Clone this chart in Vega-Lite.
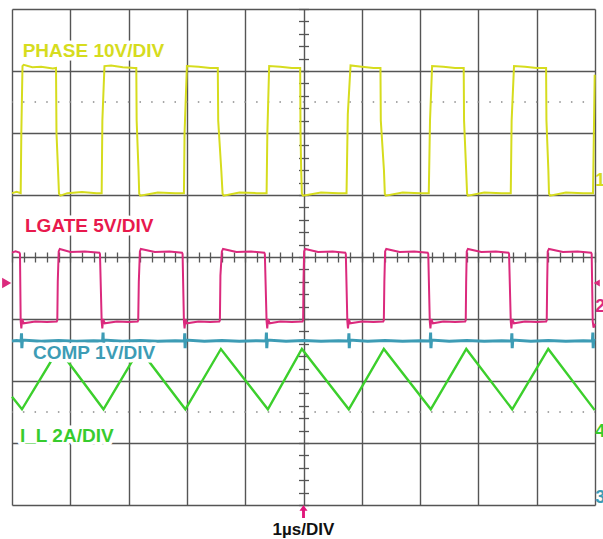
{
  "$schema": "https://vega.github.io/schema/vega-lite/v6.json",
  "width": 583,
  "height": 496,
  "autosize": {"type": "none"},
  "padding": {"left": 12, "top": 9, "right": 8, "bottom": 34},
  "background": "white",
  "config": {"view": {"stroke": null}},
  "datasets": {
    "dots": [{"v": 1.5}, {"v": 6.5}],
    "phase": [
      {"t": 0, "v": 5.03}, {"t": 0.08, "v": 5.05}, {"t": 0.149, "v": 5.03}, {"t": 0.16, "v": 6.0}, {"t": 0.18, "v": 7.08}, {"t": 0.2, "v": 7.1}, {"t": 0.35, "v": 7.06}, {"t": 0.5, "v": 7.07}, {"t": 0.7, "v": 7.04}, {"t": 0.755, "v": 7.05},
      {"t": 0.763, "v": 6.0}, {"t": 0.79, "v": 5.4}, {"t": 0.806, "v": 5.02}, {"t": 0.83, "v": 4.99}, {"t": 0.95, "v": 5.03}, {"t": 1.2, "v": 5.05}, {"t": 1.45, "v": 5.03},
      {"t": 1.538, "v": 5.03}, {"t": 1.55, "v": 6.2}, {"t": 1.586, "v": 7.08}, {"t": 1.7, "v": 7.09}, {"t": 1.9, "v": 7.06}, {"t": 2.1, "v": 7.05}, {"t": 2.132, "v": 7.05},
      {"t": 2.138, "v": 6.2}, {"t": 2.17, "v": 5.4}, {"t": 2.182, "v": 5.02}, {"t": 2.2, "v": 4.99}, {"t": 2.5, "v": 5.04}, {"t": 2.8, "v": 5.03},
      {"t": 2.949, "v": 5.03}, {"t": 2.96, "v": 6.0}, {"t": 3.0, "v": 7.08}, {"t": 3.2, "v": 7.07}, {"t": 3.4, "v": 7.05}, {"t": 3.53, "v": 7.05},
      {"t": 3.537, "v": 6.2}, {"t": 3.59, "v": 5.4}, {"t": 3.612, "v": 5.02}, {"t": 3.63, "v": 4.99}, {"t": 3.9, "v": 5.04}, {"t": 4.2, "v": 5.03},
      {"t": 4.367, "v": 5.03}, {"t": 4.38, "v": 6.0}, {"t": 4.411, "v": 7.08}, {"t": 4.6, "v": 7.07}, {"t": 4.8, "v": 7.05}, {"t": 4.943, "v": 7.05},
      {"t": 4.949, "v": 6.0}, {"t": 4.96, "v": 5.4}, {"t": 4.972, "v": 5.02}, {"t": 4.99, "v": 4.99}, {"t": 5.3, "v": 5.04}, {"t": 5.6, "v": 5.03},
      {"t": 5.738, "v": 5.03}, {"t": 5.76, "v": 6.3}, {"t": 5.807, "v": 7.09}, {"t": 6.0, "v": 7.07}, {"t": 6.2, "v": 7.05}, {"t": 6.32, "v": 7.05},
      {"t": 6.326, "v": 6.2}, {"t": 6.38, "v": 5.4}, {"t": 6.395, "v": 5.02}, {"t": 6.41, "v": 4.99}, {"t": 6.7, "v": 5.04}, {"t": 7.0, "v": 5.03},
      {"t": 7.149, "v": 5.03}, {"t": 7.17, "v": 6.2}, {"t": 7.206, "v": 7.08}, {"t": 7.4, "v": 7.07}, {"t": 7.6, "v": 7.05}, {"t": 7.748, "v": 7.05},
      {"t": 7.754, "v": 6.2}, {"t": 7.79, "v": 5.4}, {"t": 7.806, "v": 5.02}, {"t": 7.82, "v": 4.99}, {"t": 8.1, "v": 5.04}, {"t": 8.4, "v": 5.03},
      {"t": 8.555, "v": 5.03}, {"t": 8.57, "v": 6.2}, {"t": 8.611, "v": 7.08}, {"t": 8.8, "v": 7.07}, {"t": 9.0, "v": 7.05}, {"t": 9.161, "v": 7.05},
      {"t": 9.167, "v": 6.2}, {"t": 9.2, "v": 5.4}, {"t": 9.211, "v": 5.02}, {"t": 9.23, "v": 4.99}, {"t": 9.5, "v": 5.04}, {"t": 9.8, "v": 5.03},
      {"t": 9.966, "v": 5.03}, {"t": 9.995, "v": 6.94}
    ],
    "lgate": [
      {"t": 0, "v": 4.07}, {"t": 0.06, "v": 4.09}, {"t": 0.127, "v": 4.07},
      {"t": 0.137, "v": 4.05}, {"t": 0.149, "v": 2.96}, {"t": 0.16, "v": 2.85}, {"t": 0.175, "v": 3.0}, {"t": 0.2, "v": 2.93}, {"t": 0.4, "v": 2.96}, {"t": 0.6, "v": 2.95}, {"t": 0.767, "v": 2.96},
      {"t": 0.777, "v": 2.98}, {"t": 0.785, "v": 3.6}, {"t": 0.801, "v": 4.09}, {"t": 0.82, "v": 4.13}, {"t": 1.0, "v": 4.08}, {"t": 1.25, "v": 4.09}, {"t": 1.499, "v": 4.07},
      {"t": 1.509, "v": 4.05}, {"t": 1.538, "v": 2.96}, {"t": 1.549, "v": 2.85}, {"t": 1.564, "v": 3.0}, {"t": 1.59, "v": 2.93}, {"t": 1.8, "v": 2.96}, {"t": 2.0, "v": 2.95}, {"t": 2.155, "v": 2.96},
      {"t": 2.165, "v": 2.98}, {"t": 2.175, "v": 3.6}, {"t": 2.194, "v": 4.09}, {"t": 2.21, "v": 4.13}, {"t": 2.45, "v": 4.08}, {"t": 2.7, "v": 4.09}, {"t": 2.916, "v": 4.07},
      {"t": 2.926, "v": 4.05}, {"t": 2.949, "v": 2.96}, {"t": 2.96, "v": 2.85}, {"t": 2.975, "v": 3.0}, {"t": 3.0, "v": 2.93}, {"t": 3.2, "v": 2.96}, {"t": 3.4, "v": 2.95}, {"t": 3.556, "v": 2.96},
      {"t": 3.566, "v": 2.98}, {"t": 3.575, "v": 3.7}, {"t": 3.6, "v": 4.09}, {"t": 3.62, "v": 4.13}, {"t": 3.85, "v": 4.08}, {"t": 4.1, "v": 4.09}, {"t": 4.327, "v": 4.07},
      {"t": 4.337, "v": 4.05}, {"t": 4.367, "v": 2.96}, {"t": 4.378, "v": 2.85}, {"t": 4.393, "v": 3.0}, {"t": 4.42, "v": 2.93}, {"t": 4.6, "v": 2.96}, {"t": 4.8, "v": 2.95}, {"t": 4.984, "v": 2.96},
      {"t": 4.994, "v": 2.98}, {"t": 5.0, "v": 3.6}, {"t": 5.011, "v": 4.09}, {"t": 5.03, "v": 4.13}, {"t": 5.25, "v": 4.08}, {"t": 5.5, "v": 4.09}, {"t": 5.716, "v": 4.07},
      {"t": 5.726, "v": 4.05}, {"t": 5.752, "v": 2.96}, {"t": 5.763, "v": 2.85}, {"t": 5.778, "v": 3.0}, {"t": 5.8, "v": 2.93}, {"t": 6.0, "v": 2.96}, {"t": 6.2, "v": 2.95}, {"t": 6.368, "v": 2.96},
      {"t": 6.378, "v": 2.98}, {"t": 6.387, "v": 3.6}, {"t": 6.4, "v": 4.09}, {"t": 6.42, "v": 4.13}, {"t": 6.65, "v": 4.08}, {"t": 6.9, "v": 4.09}, {"t": 7.13, "v": 4.07},
      {"t": 7.14, "v": 4.05}, {"t": 7.166, "v": 2.96}, {"t": 7.177, "v": 2.85}, {"t": 7.192, "v": 3.0}, {"t": 7.22, "v": 2.93}, {"t": 7.4, "v": 2.96}, {"t": 7.6, "v": 2.95}, {"t": 7.773, "v": 2.96},
      {"t": 7.783, "v": 2.98}, {"t": 7.79, "v": 3.6}, {"t": 7.8, "v": 4.09}, {"t": 7.82, "v": 4.13}, {"t": 8.05, "v": 4.08}, {"t": 8.3, "v": 4.09}, {"t": 8.516, "v": 4.07},
      {"t": 8.526, "v": 4.05}, {"t": 8.555, "v": 2.96}, {"t": 8.566, "v": 2.85}, {"t": 8.581, "v": 3.0}, {"t": 8.61, "v": 2.93}, {"t": 8.8, "v": 2.96}, {"t": 9.0, "v": 2.95}, {"t": 9.162, "v": 2.96},
      {"t": 9.172, "v": 2.98}, {"t": 9.18, "v": 3.6}, {"t": 9.189, "v": 4.09}, {"t": 9.21, "v": 4.13}, {"t": 9.45, "v": 4.08}, {"t": 9.7, "v": 4.09}, {"t": 9.933, "v": 4.07},
      {"t": 9.943, "v": 4.05}, {"t": 9.961, "v": 2.96}, {"t": 9.975, "v": 2.86}, {"t": 10, "v": 2.92}
    ],
    "comp": [
      {"t": 0, "v": 2.645}, {"t": 0.08, "v": 2.655},
      {"t": 0.156, "v": 2.645}, {"t": 0.163, "v": 2.77}, {"t": 0.169, "v": 2.53}, {"t": 0.178, "v": 2.66},
      {"t": 0.5, "v": 2.64}, {"t": 0.8, "v": 2.655}, {"t": 1.1, "v": 2.64}, {"t": 1.4, "v": 2.65},
      {"t": 1.555, "v": 2.645}, {"t": 1.562, "v": 2.78}, {"t": 1.568, "v": 2.53}, {"t": 1.577, "v": 2.66},
      {"t": 1.9, "v": 2.64}, {"t": 2.2, "v": 2.655}, {"t": 2.5, "v": 2.64}, {"t": 2.8, "v": 2.65},
      {"t": 2.956, "v": 2.645}, {"t": 2.963, "v": 2.77}, {"t": 2.969, "v": 2.53}, {"t": 2.978, "v": 2.66},
      {"t": 3.3, "v": 2.64}, {"t": 3.6, "v": 2.655}, {"t": 3.9, "v": 2.64}, {"t": 4.2, "v": 2.65},
      {"t": 4.357, "v": 2.645}, {"t": 4.364, "v": 2.78}, {"t": 4.37, "v": 2.53}, {"t": 4.379, "v": 2.66},
      {"t": 4.7, "v": 2.64}, {"t": 5.0, "v": 2.655}, {"t": 5.3, "v": 2.64}, {"t": 5.6, "v": 2.65},
      {"t": 5.772, "v": 2.645}, {"t": 5.779, "v": 2.77}, {"t": 5.785, "v": 2.53}, {"t": 5.794, "v": 2.66},
      {"t": 6.1, "v": 2.64}, {"t": 6.4, "v": 2.655}, {"t": 6.7, "v": 2.64}, {"t": 7.0, "v": 2.65},
      {"t": 7.173, "v": 2.645}, {"t": 7.18, "v": 2.78}, {"t": 7.186, "v": 2.53}, {"t": 7.195, "v": 2.66},
      {"t": 7.5, "v": 2.64}, {"t": 7.8, "v": 2.655}, {"t": 8.1, "v": 2.64}, {"t": 8.4, "v": 2.65},
      {"t": 8.567, "v": 2.645}, {"t": 8.574, "v": 2.77}, {"t": 8.58, "v": 2.53}, {"t": 8.589, "v": 2.66},
      {"t": 8.9, "v": 2.64}, {"t": 9.2, "v": 2.655}, {"t": 9.5, "v": 2.64}, {"t": 9.8, "v": 2.65},
      {"t": 9.956, "v": 2.645}, {"t": 9.963, "v": 2.78}, {"t": 9.969, "v": 2.53}, {"t": 9.978, "v": 2.66},
      {"t": 10, "v": 2.645}
    ],
    "il": [
      {"t": 0, "v": 1.747}, {"t": 0.171, "v": 1.544}, {"t": 0.797, "v": 2.516}, {"t": 1.569, "v": 1.544}, {"t": 2.186, "v": 2.516},
      {"t": 2.974, "v": 1.544}, {"t": 3.583, "v": 2.516}, {"t": 4.389, "v": 1.544}, {"t": 4.972, "v": 2.516}, {"t": 5.777, "v": 1.544},
      {"t": 6.378, "v": 2.516}, {"t": 7.183, "v": 1.544}, {"t": 7.792, "v": 2.516}, {"t": 8.58, "v": 1.544}, {"t": 9.198, "v": 2.516},
      {"t": 9.995, "v": 1.53}
    ],
    "labels": [
      {"label": "PHASE 10V/DIV", "k": "PHASE", "t": 0.183, "v": 7.226},
      {"label": "LGATE 5V/DIV", "k": "LGATE", "t": 0.223, "v": 4.403},
      {"label": "COMP 1V/DIV", "k": "COMP", "t": 0.36, "v": 2.355},
      {"label": "I_L 2A/DIV", "k": "IL", "t": 0.137, "v": 1.024}
    ],
    "edge": [
      {"label": "1", "k": "PHASE", "t": 10.005, "v": 5.145},
      {"label": "2", "k": "LGATE2", "t": 10.005, "v": 3.113},
      {"label": "4", "k": "IL", "t": 10.005, "v": 1.097},
      {"label": "3", "k": "COMP", "t": 10.005, "v": 0.032}
    ]
  },
  "resolve": {"axis": {"x": "independent", "y": "independent"}},
  "layer": [
    {
      "data": {"name": "dots"},
      "mark": {"type": "rule", "color": "#8a8a8a", "strokeWidth": 1.5, "strokeDash": [1.5, 10.16], "strokeDashOffset": 0.75},
      "encoding": {"y": {"field": "v", "type": "quantitative", "scale": {"domain": [0, 8], "nice": false, "zero": false}, "axis": null}}
    },
    {
      "data": {"name": "phase"},
      "mark": {"type": "line", "color": "#d6dc1e", "strokeWidth": 2, "interpolate": "linear"},
      "encoding": {
        "x": {"field": "t", "type": "quantitative", "scale": {"domain": [0, 10], "nice": false, "zero": false},
          "axis": {"orient": "bottom", "values": [0, 1, 2, 3, 4, 5, 6, 7, 8, 9, 10], "grid": true, "gridColor": "#555555", "gridWidth": 1.4, "gridOpacity": 1, "labels": false, "ticks": false, "domain": false, "title": null}},
        "y": {"field": "v", "type": "quantitative", "scale": {"domain": [0, 8], "nice": false, "zero": false},
          "axis": {"orient": "left", "values": [0, 1, 2, 3, 4, 5, 6, 7, 8], "grid": true, "gridColor": "#555555", "gridWidth": 1.4, "gridOpacity": 1, "labels": false, "ticks": false, "domain": false, "title": null}}
      }
    },
    {
      "data": {"name": "lgate"},
      "mark": {"type": "line", "color": "#db2a7d", "strokeWidth": 2},
      "encoding": {
        "x": {"field": "t", "type": "quantitative", "scale": {"domain": [0, 10], "nice": false, "zero": false},
          "axis": {"orient": "top", "offset": -253, "tickCount": 50, "grid": false, "labels": false, "domain": false, "ticks": true, "tickSize": 10, "tickColor": "#555555", "tickWidth": 1.3, "title": null}},
        "y": {"field": "v", "type": "quantitative", "scale": {"domain": [0, 8], "nice": false, "zero": false},
          "axis": {"orient": "right", "offset": -296.5, "tickCount": 40, "grid": false, "labels": false, "domain": false, "ticks": true, "tickSize": 10, "tickColor": "#555555", "tickWidth": 1.3, "title": null}}
      }
    },
    {
      "data": {"name": "il"},
      "mark": {"type": "line", "color": "#3ccf2c", "strokeWidth": 2.4},
      "encoding": {
        "x": {"field": "t", "type": "quantitative", "axis": null},
        "y": {"field": "v", "type": "quantitative", "axis": null}
      }
    },
    {
      "data": {"name": "comp"},
      "mark": {"type": "line", "color": "#3d9cb5", "strokeWidth": 3},
      "encoding": {
        "x": {"field": "t", "type": "quantitative", "axis": null},
        "y": {"field": "v", "type": "quantitative", "axis": null}
      }
    },
    {
      "data": {"name": "labels"},
      "mark": {"type": "text", "align": "left", "baseline": "alphabetic", "font": "Liberation Sans", "fontWeight": "bold", "fontSize": 19, "fill": "white", "stroke": "white", "strokeWidth": 7, "strokeJoin": "round"},
      "encoding": {
        "x": {"field": "t", "type": "quantitative", "axis": null},
        "y": {"field": "v", "type": "quantitative", "axis": null},
        "text": {"field": "label"}
      }
    },
    {
      "data": {"name": "labels"},
      "mark": {"type": "text", "align": "left", "baseline": "alphabetic", "font": "Liberation Sans", "fontWeight": "bold", "fontSize": 19},
      "encoding": {
        "x": {"field": "t", "type": "quantitative", "axis": null},
        "y": {"field": "v", "type": "quantitative", "axis": null},
        "text": {"field": "label"},
        "color": {"field": "k", "type": "nominal", "legend": null,
          "scale": {"domain": ["PHASE", "LGATE", "COMP", "IL", "LGATE2"], "range": ["#d6dc1e", "#e8194d", "#3d9cb5", "#38cc2e", "#db2a7d"]}}
      }
    },
    {
      "data": {"name": "edge"},
      "mark": {"type": "text", "align": "left", "baseline": "alphabetic", "font": "Liberation Sans", "fontWeight": "bold", "fontSize": 18},
      "encoding": {
        "x": {"field": "t", "type": "quantitative", "axis": null},
        "y": {"field": "v", "type": "quantitative", "axis": null},
        "text": {"field": "label"},
        "color": {"field": "k", "type": "nominal", "legend": null,
          "scale": {"domain": ["PHASE", "LGATE", "COMP", "IL", "LGATE2"], "range": ["#d6dc1e", "#e8194d", "#3d9cb5", "#38cc2e", "#db2a7d"]}}
      }
    },
    {
      "data": {"values": [{"label": "1µs/DIV", "t": 5, "v": -0.484}]},
      "mark": {"type": "text", "align": "center", "baseline": "alphabetic", "font": "Liberation Sans", "fontWeight": "bold", "fontSize": 17, "color": "#111111"},
      "encoding": {
        "x": {"field": "t", "type": "quantitative", "axis": null},
        "y": {"field": "v", "type": "quantitative", "axis": null},
        "text": {"field": "label"}
      }
    },
    {
      "data": {"values": [{"name": "LGATE ground", "t": -0.091, "v": 3.58}]},
      "mark": {"type": "point", "shape": "triangle-right", "filled": true, "size": 110, "color": "#db2a7d", "opacity": 1},
      "encoding": {
        "x": {"field": "t", "type": "quantitative", "axis": null},
        "y": {"field": "v", "type": "quantitative", "axis": null}
      }
    },
    {
      "data": {"values": [{"name": "LGATE ref", "t": 10.03, "v": 3.58}]},
      "mark": {"type": "point", "shape": "triangle-left", "filled": true, "size": 50, "color": "#db2a7d", "opacity": 1},
      "encoding": {
        "x": {"field": "t", "type": "quantitative", "axis": null},
        "y": {"field": "v", "type": "quantitative", "axis": null}
      }
    },
    {
      "data": {"values": [{"name": "trigger", "t": 5, "v": -0.105}]},
      "mark": {"type": "point", "shape": "M-0.22,1L0.22,1L0.22,-0.1L0.62,-0.1L0,-1L-0.62,-0.1L-0.22,-0.1Z", "filled": true, "size": 170, "color": "#e0157a", "opacity": 1},
      "encoding": {
        "x": {"field": "t", "type": "quantitative", "axis": null},
        "y": {"field": "v", "type": "quantitative", "axis": null}
      }
    }
  ]
}
